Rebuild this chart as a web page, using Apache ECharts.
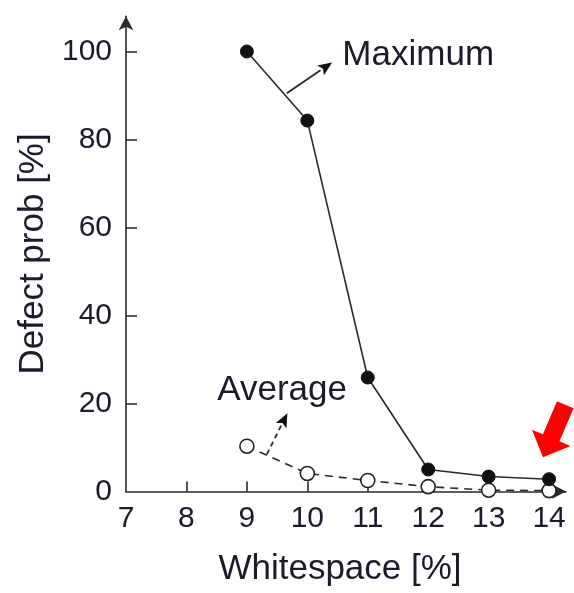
<!DOCTYPE html>
<html>
<head>
<meta charset="utf-8">
<script src="https://cdn.jsdelivr.net/npm/echarts@6/dist/echarts.min.js"></script>
<style>html,body{margin:0;padding:0;background:#fff;}#c{width:574px;height:593px;}</style>
</head>
<body>
<div id="c"></div>
<script>
var whitespace = [9, 10, 11, 12, 13, 14];
var maximumVals = [100, 84.3, 25.9, 5.0, 3.4, 2.8];
var averageVals = [10.3, 4.1, 2.5, 1.1, 0.3, 0.2];
var xTicks = [7, 8, 9, 10, 11, 12, 13, 14];
var yTicks = [0, 20, 40, 60, 80, 100];

var ink = '#1b1b2b';
var lineCol = '#2a2a2a';
var font = '"Liberation Sans", Arial, sans-serif';

function pairs(xs, ys) { return xs.map(function (x, i) { return [x, ys[i]]; }); }

var chart = echarts.init(document.getElementById('c'), null, { renderer: 'canvas' });
var option = {
  animation: false,
  backgroundColor: '#fff',
  grid: { left: 126, right: 8, top: 16.3, bottom: 101.5 },
  xAxis: {
    type: 'value', min: 7, max: 14.28, interval: 1,
    name: 'Whitespace [%]', nameLocation: 'middle', nameGap: 60,
    nameTextStyle: { fontSize: 35, color: ink, fontFamily: font, padding: [0, 12, 0, 0] },
    axisLine: { show: true, lineStyle: { color: lineCol, width: 1.6 }, symbol: ['none', 'arrow'], symbolSize: [11, 14] },
    axisTick: { show: true, inside: true, length: 10, lineStyle: { color: lineCol, width: 1.6 }, customValues: [8, 9, 10, 11, 12, 13, 14] },
    axisLabel: { fontSize: 30, color: ink, fontFamily: font, margin: 12, customValues: xTicks },
    splitLine: { show: false }
  },
  yAxis: {
    type: 'value', min: 0, max: 108, interval: 20,
    name: 'Defect prob [%]', nameLocation: 'middle', nameGap: 70,
    nameTextStyle: { fontSize: 35, color: ink, fontFamily: font },
    axisLine: { show: true, lineStyle: { color: lineCol, width: 1.6 }, symbol: ['none', 'arrow'], symbolSize: [11, 14] },
    axisTick: { show: true, inside: true, length: 11, lineStyle: { color: lineCol, width: 1.6 }, customValues: [20, 40, 60, 80, 100] },
    axisLabel: { fontSize: 30, color: ink, fontFamily: font, margin: 14, customValues: yTicks },
    splitLine: { show: false }
  },
  series: [
    {
      name: 'Maximum', type: 'line', data: pairs(whitespace, maximumVals),
      symbol: 'circle', symbolSize: 13,
      itemStyle: { color: '#111', borderColor: '#111', borderWidth: 1 },
      lineStyle: { color: lineCol, width: 1.6, type: 'solid' }, z: 3
    },
    {
      name: 'Average', type: 'line', data: pairs(whitespace, averageVals),
      symbol: 'circle', symbolSize: 14,
      itemStyle: { color: '#fff', borderColor: '#222', borderWidth: 1.6 },
      lineStyle: { color: lineCol, width: 1.6, type: [8, 6] }, z: 2
    }
  ]
};
chart.setOption(option);

// annotations anchored in data space
function px(x, y) { return chart.convertToPixel({ gridIndex: 0 }, [x, y]); }
function arrow(from, to, dashed) {
  var a = px(from[0], from[1]), b = px(to[0], to[1]);
  var ang = Math.atan2(b[1] - a[1], b[0] - a[0]);
  var L = 14, W = 6;
  var bx = b[0] - L * Math.cos(ang), by = b[1] - L * Math.sin(ang);
  var nx = -Math.sin(ang), ny = Math.cos(ang);
  return [
    { type: 'line', shape: { x1: a[0], y1: a[1], x2: bx, y2: by },
      style: { stroke: lineCol, lineWidth: 1.8, lineDash: dashed ? [5, 4] : null }, z: 10 },
    { type: 'polygon', shape: { points: [[b[0], b[1]], [bx + nx * W, by + ny * W], [bx + 3 * Math.cos(ang), by + 3 * Math.sin(ang)], [bx - nx * W, by - ny * W]] },
      style: { fill: '#111' }, z: 10 }
  ];
}
var g = [];
g = g.concat(arrow([9.66, 90.5], [10.41, 97.5], false));
g = g.concat(arrow([9.33, 8.45], [9.67, 17.8], true));
var mt = px(10.58, 99.2), at = px(8.51, 23);
g.push({ type: 'text', x: mt[0], y: mt[1], style: { text: 'Maximum', font: '35px ' + font, fill: ink, verticalAlign: 'middle', align: 'left' }, z: 10 });
g.push({ type: 'text', x: at[0], y: at[1], style: { text: 'Average', font: '35px ' + font, fill: ink, verticalAlign: 'middle', align: 'left' }, z: 10 });
// red pointer arrow
var tip = px(13.90, 7.8);
var ux = 0.39, uy = -0.92, vx = 0.92, vy = 0.39;
function P(a, b) { return [tip[0] + a * ux + b * vx, tip[1] + a * uy + b * vy]; }
g.push({ type: 'polygon', shape: { points: [P(0, 0), P(21, 21), P(21, 9), P(57, 9), P(57, -9), P(21, -9), P(21, -21)] },
  style: { fill: '#ff0000' }, z: 11 });
chart.setOption({ graphic: g });
</script>
</body>
</html>
